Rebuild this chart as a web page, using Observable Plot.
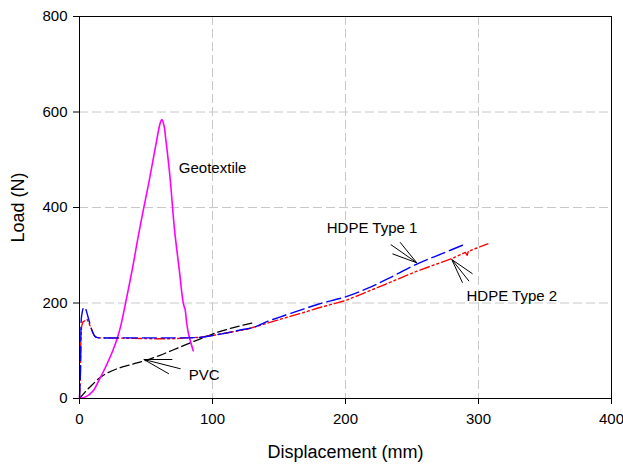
<!DOCTYPE html>
<html>
<head>
<meta charset="utf-8">
<script src="https://cdn.jsdelivr.net/npm/d3@7"></script>
<script src="https://cdn.jsdelivr.net/npm/@observablehq/plot@0.6"></script>
<style>
  html, body { margin: 0; padding: 0; background: #fff; }
  #chart { width: 623px; height: 466px; }
</style>
</head>
<body>
<div id="chart"></div>
<script>
// ---- data (Displacement mm, Load N) ----
const geoX = [0, 5, 10, 15, 20, 25, 28.4, 31, 35, 40, 43.4, 48, 52, 55, 58, 60.5, 62, 63.5, 65, 68, 71.5, 75, 78, 79.5, 80.5, 82, 85.5];
const geoY = [0, 4, 15, 40, 68, 100, 126, 152, 205, 275, 328, 395, 450, 495, 540, 575, 584, 572, 540, 465, 352, 270, 200, 185, 160, 135, 100];

const pvcX = [0, 5, 10, 15, 20, 28, 40, 50, 60, 76, 90, 101, 115, 130];
const pvcY = [0, 16, 30, 43, 52, 62, 72, 80, 90, 108, 124, 136, 148, 158];

const h1X = [0, 0.8, 1.3, 2, 3.2, 4.5, 6, 8, 10, 12, 15, 30, 50, 70, 90, 100, 110, 120, 131, 140, 150, 166, 180, 200, 216, 232, 254, 274, 288];
const h1Y = [0, 60, 165, 180, 191, 188, 175, 155, 138, 129, 127, 127, 127, 127, 128, 132, 137, 143, 149, 160, 170, 185, 198, 213, 230, 251, 282, 305, 321];

const h2X = [0, 0.5, 1, 1.5, 2.5, 4, 5.8, 7, 9, 11, 13, 20, 40, 60, 70, 80, 90, 100, 126, 151, 166, 180, 200, 229, 254, 280, 290, 291.5, 292.5, 294, 307];
const h2Y = [0, 40, 120, 150, 160, 163, 166, 158, 145, 132, 127, 127, 126, 125, 125, 127, 128, 132, 145, 166, 178, 190, 205, 238, 267, 293, 306, 300, 310, 310, 324];

const seriesNames = ["Geotextile", "PVC", "HDPE Type 1", "HDPE Type 2"];

// axis ticks and grid
const xTicks = [0, 100, 200, 300, 400];
const yTicks = [0, 200, 400, 600, 800];
const xGrid = [100, 200, 300];
const yGrid = [200, 400, 600];

// annotation labels (data coordinates)
const labelText = ["Geotextile", "PVC", "HDPE Type 1", "HDPE Type 2"];
const labelX = [74.7, 82.2, 185.9, 291];
const labelY = [482, 48, 356, 214];

// annotation pointer lines (tip -> tail)
const arrowX1 = [48.4, 48.4, 48.4, 253.6, 253.6, 253.6, 279.9, 279.9, 279.9];
const arrowY1 = [81.7, 81.7, 81.7, 284.2, 284.2, 284.2, 291.1, 291.1, 291.1];
const arrowX2 = [69.8, 76.0, 67.2, 234.0, 241.0, 235.3, 295.5, 292.9, 288.0];
const arrowY2 = [81.7, 62.2, 51.7, 322.5, 327.3, 303.0, 261.2, 245.7, 242.3];

// ---- build tables ----
const toRows = (xs, ys) => xs.map((x, i) => ({x, y: ys[i]}));
const geo = toRows(geoX, geoY);
const pvc = toRows(pvcX, pvcY);
const h1 = toRows(h1X, h1Y);
const h2 = toRows(h2X, h2Y);
const labels = labelText.map((t, i) => ({t, x: labelX[i], y: labelY[i]}));
const arrows = arrowX1.map((x1, i) => ({x1, y1: arrowY1[i], x2: arrowX2[i], y2: arrowY2[i]}));

const font = "Liberation Sans, Arial, Helvetica, sans-serif";

const chart = Plot.plot({
  width: 623,
  height: 466,
  marginLeft: 79,
  marginRight: 12,
  marginTop: 16,
  marginBottom: 68,
  style: {fontFamily: font, fontSize: "15px", background: "#fff", color: "#000"},
  x: {domain: [0, 400]},
  y: {domain: [0, 800]},
  marks: [
    Plot.ruleX(xGrid, {stroke: "#c8c8c8", strokeWidth: 1, strokeDasharray: "9,4"}),
    Plot.ruleY(yGrid, {stroke: "#c8c8c8", strokeWidth: 1, strokeDasharray: "9,4"}),
    Plot.axisX({ticks: xTicks, tickSize: 6, tickPadding: 9, label: null, fontSize: 15, stroke: "#000"}),
    Plot.axisY({ticks: yTicks, tickSize: 6, tickPadding: 6, label: null, fontSize: 15, stroke: "#000"}),
    Plot.line(pvc, {x: "x", y: "y", stroke: "#000", strokeWidth: 1.3, strokeDasharray: "9,4", curve: "catmull-rom"}),
    Plot.line(geo, {x: "x", y: "y", stroke: "#ff00ff", strokeWidth: 1.6, curve: "catmull-rom"}),
    Plot.line(h2, {x: "x", y: "y", stroke: "#ff0000", strokeWidth: 1.4, strokeDasharray: "10,3,2,3,2,3"}),
    Plot.line(h1, {x: "x", y: "y", stroke: "#0000ff", strokeWidth: 1.4, strokeDasharray: "14,5", curve: "catmull-rom"}),
    Plot.link(arrows, {x1: "x1", y1: "y1", x2: "x2", y2: "y2", stroke: "#000", strokeWidth: 1}),
    Plot.text(labels, {x: "x", y: "y", text: "t", textAnchor: "start", fontSize: 15, fill: "#000"}),
    Plot.frame({stroke: "#000", strokeWidth: 1}),
    Plot.text(["Load (N)"], {frameAnchor: "left", textAnchor: "middle", lineAnchor: "middle", rotate: -90, dx: -61, fontSize: 18, fill: "#000"}),
    Plot.text(["Displacement (mm)"], {frameAnchor: "bottom", textAnchor: "middle", lineAnchor: "middle", dy: 54, fontSize: 18, fill: "#000"})
  ]
});
document.getElementById("chart").appendChild(chart);
</script>
</body>
</html>
